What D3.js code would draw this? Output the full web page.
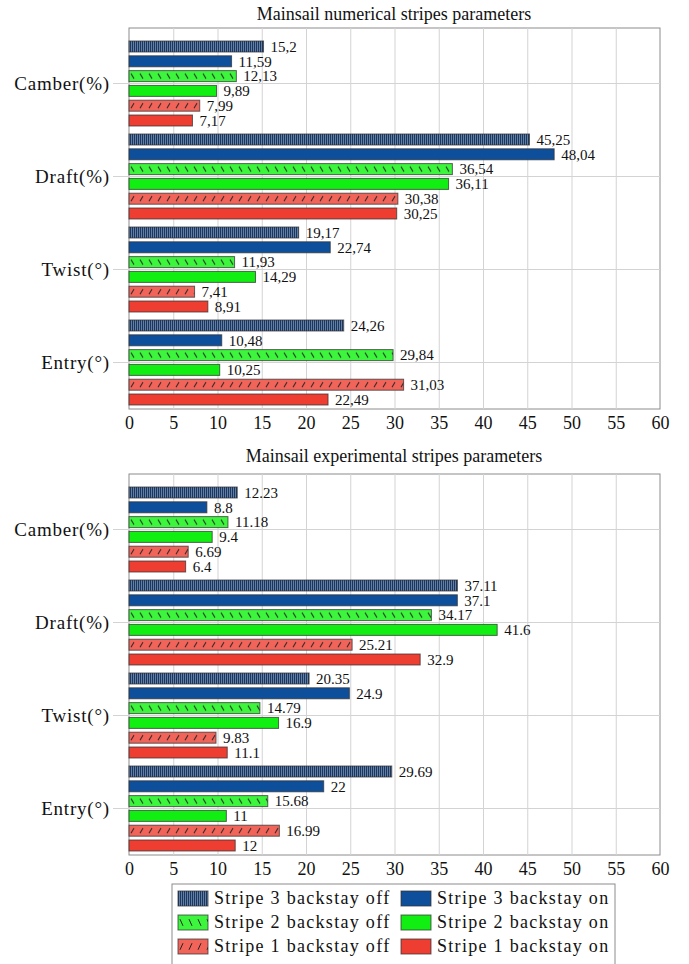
<!DOCTYPE html>
<html>
<head>
<meta charset="utf-8">
<script src="https://d3js.org/d3.v7.min.js"></script>
<style>
body {margin: 0; background: white;}
svg text {font-family: "Liberation Serif", "Times New Roman", serif; fill: #111;}
.grid line {stroke: #d3d3d3;}
.grid path {display: none;}
</style>
</head>
<body>
<svg width="689" height="964"></svg>
<script>

// categories and series
var categories = ['Camber(%)', 'Draft(%)', 'Twist(°)', 'Entry(°)'];
var series = ['Stripe 3 backstay off', 'Stripe 3 backstay on',
              'Stripe 2 backstay off', 'Stripe 2 backstay on',
              'Stripe 1 backstay off', 'Stripe 1 backstay on'];
var xTicks = [0, 5, 10, 15, 20, 25, 30, 35, 40, 45, 50, 55, 60];

// numerical stripes (values in series order)
var numCamber = [15.2, 11.59, 12.13, 9.89, 7.99, 7.17];
var numDraft  = [45.25, 48.04, 36.54, 36.11, 30.38, 30.25];
var numTwist  = [19.17, 22.74, 11.93, 14.29, 7.41, 8.91];
var numEntry  = [24.26, 10.48, 29.84, 10.25, 31.03, 22.49];

// experimental stripes
var expCamber = [12.23, 8.8, 11.18, 9.4, 6.69, 6.4];
var expDraft  = [37.11, 37.1, 34.17, 41.6, 25.21, 32.9];
var expTwist  = [20.35, 24.9, 14.79, 16.9, 9.83, 11.1];
var expEntry  = [29.69, 22, 15.68, 11, 16.99, 12];

var fills = ['url(#vstripe)', '#0e4f9c', 'green-off', '#11ee11', 'red-off', '#ee3e32'];
var baseOff = {2: '#3cf53c', 4: '#f0645a'};

var svg = d3.select('svg');
var defs = svg.append('defs');

var vs = defs.append('pattern').attr('id', 'vstripe')
  .attr('patternUnits', 'userSpaceOnUse').attr('width', 2).attr('height', 4);
vs.append('rect').attr('width', 2).attr('height', 4).attr('fill', '#5f7ea8');
vs.append('rect').attr('width', 1).attr('height', 4).attr('fill', '#1d3659');

var pid = 0;
function hatch(si, bx, by, bh) {
  var id = 'h' + (pid++);
  var p = defs.append('pattern').attr('id', id)
    .attr('patternUnits', 'userSpaceOnUse')
    .attr('x', bx).attr('y', by).attr('width', 9).attr('height', bh);
  p.append('rect').attr('width', 9).attr('height', bh).attr('fill', baseOff[si]);
  if (si == 2)
    p.append('line').attr('x1', 2).attr('y1', bh*0.28).attr('x2', 5).attr('y2', bh*0.72);
  else
    p.append('line').attr('x1', 2).attr('y1', bh*0.72).attr('x2', 5).attr('y2', bh*0.28);
  p.select('line').attr('stroke', '#222').attr('stroke-width', 1);
  return 'url(#' + id + ')';
}

var x = d3.scaleLinear().domain([0, 60]).range([129, 660]);

function drawChart(title, titleY, top, bottom, rows, comma) {
  var y = d3.scaleBand().domain(categories).range([top + 9, bottom]);
  var sub = d3.scaleBand().domain(series).range([-42.5, 42.5]).paddingInner(0.257);
  var g = svg.append('g');

  g.append('text')
    .attr('x', 394).attr('y', titleY)
    .attr('text-anchor', 'middle')
    .style('font-size', '18px')
    .text(title);

  g.append('rect')
    .attr('x', x(0)).attr('y', top)
    .attr('width', x(60) - x(0)).attr('height', bottom - top)
    .attr('fill', 'white').attr('stroke', '#8c8c8c');

  g.append('g').attr('class', 'grid')
    .attr('transform', 'translate(0,' + bottom + ')')
    .call(d3.axisBottom(x).tickValues(xTicks.slice(1, -1)).tickSize(-(bottom - top)).tickFormat(''));

  g.append('g').attr('class', 'grid')
    .selectAll('line').data(categories).enter().append('line')
    .attr('x1', 113).attr('x2', x(60))
    .attr('y1', function(d) { return y(d) + y.bandwidth()/2; })
    .attr('y2', function(d) { return y(d) + y.bandwidth()/2; });

  categories.forEach(function(c, ci) {
    var cy = y(c) + y.bandwidth()/2;
    rows[ci].forEach(function(v, si) {
      var by = cy + sub(series[si]);
      var bh = sub.bandwidth();
      var f = fills[si];
      if (si == 2 || si == 4) f = hatch(si, x(0), by, bh);
      g.append('rect')
        .attr('x', x(0)).attr('y', by)
        .attr('width', x(v) - x(0)).attr('height', bh)
        .attr('fill', f)
        .attr('stroke', '#333').attr('stroke-opacity', 0.75).attr('stroke-width', 1);
      g.append('text')
        .attr('x', x(v) + 7).attr('y', by + bh/2)
        .attr('dy', '0.36em')
        .style('font-size', '15px')
        .text(comma ? String(v).replace('.', ',') : String(v));
    });
  });

  var xa = g.append('g')
    .attr('transform', 'translate(0,' + bottom + ')')
    .call(d3.axisBottom(x).tickValues(xTicks).tickSize(0).tickPadding(7));
  xa.select('.domain').remove();
  xa.selectAll('text').style('font-size', '18px').style('font-family', '"Liberation Serif", serif');

  var ya = g.append('g')
    .attr('transform', 'translate(' + x(0) + ',0)')
    .call(d3.axisLeft(y).tickSize(0).tickPadding(19));
  ya.select('.domain').remove();
  ya.selectAll('text').style('font-size', '19px').style('letter-spacing', '0.8px')
    .style('font-family', '"Liberation Serif", serif');
}

drawChart('Mainsail numerical stripes parameters', 20, 28, 409,
  [numCamber, numDraft, numTwist, numEntry], true);
drawChart('Mainsail experimental stripes parameters', 462, 474, 855,
  [expCamber, expDraft, expTwist, expEntry], false);

// legend
var lg = svg.append('g');
lg.append('rect').attr('x', 172).attr('y', 884).attr('width', 443).attr('height', 92)
  .attr('fill', 'white').attr('stroke', '#8c8c8c');
series.forEach(function(s, i) {
  var lx = (i % 2 == 0) ? 178 : 401;
  var ly = 891 + Math.floor(i / 2) * 24;
  var f = fills[i];
  if (i == 2 || i == 4) f = hatch(i, lx, ly, 15);
  lg.append('rect').attr('x', lx).attr('y', ly).attr('width', 30).attr('height', 15)
    .attr('fill', f).attr('stroke', '#333').attr('stroke-opacity', 0.75);
  lg.append('text').attr('x', lx + 36).attr('y', ly + 13)
    .style('font-size', '18px').style('letter-spacing', '1.3px')
    .text(s);
});

</script>
</body>
</html>
